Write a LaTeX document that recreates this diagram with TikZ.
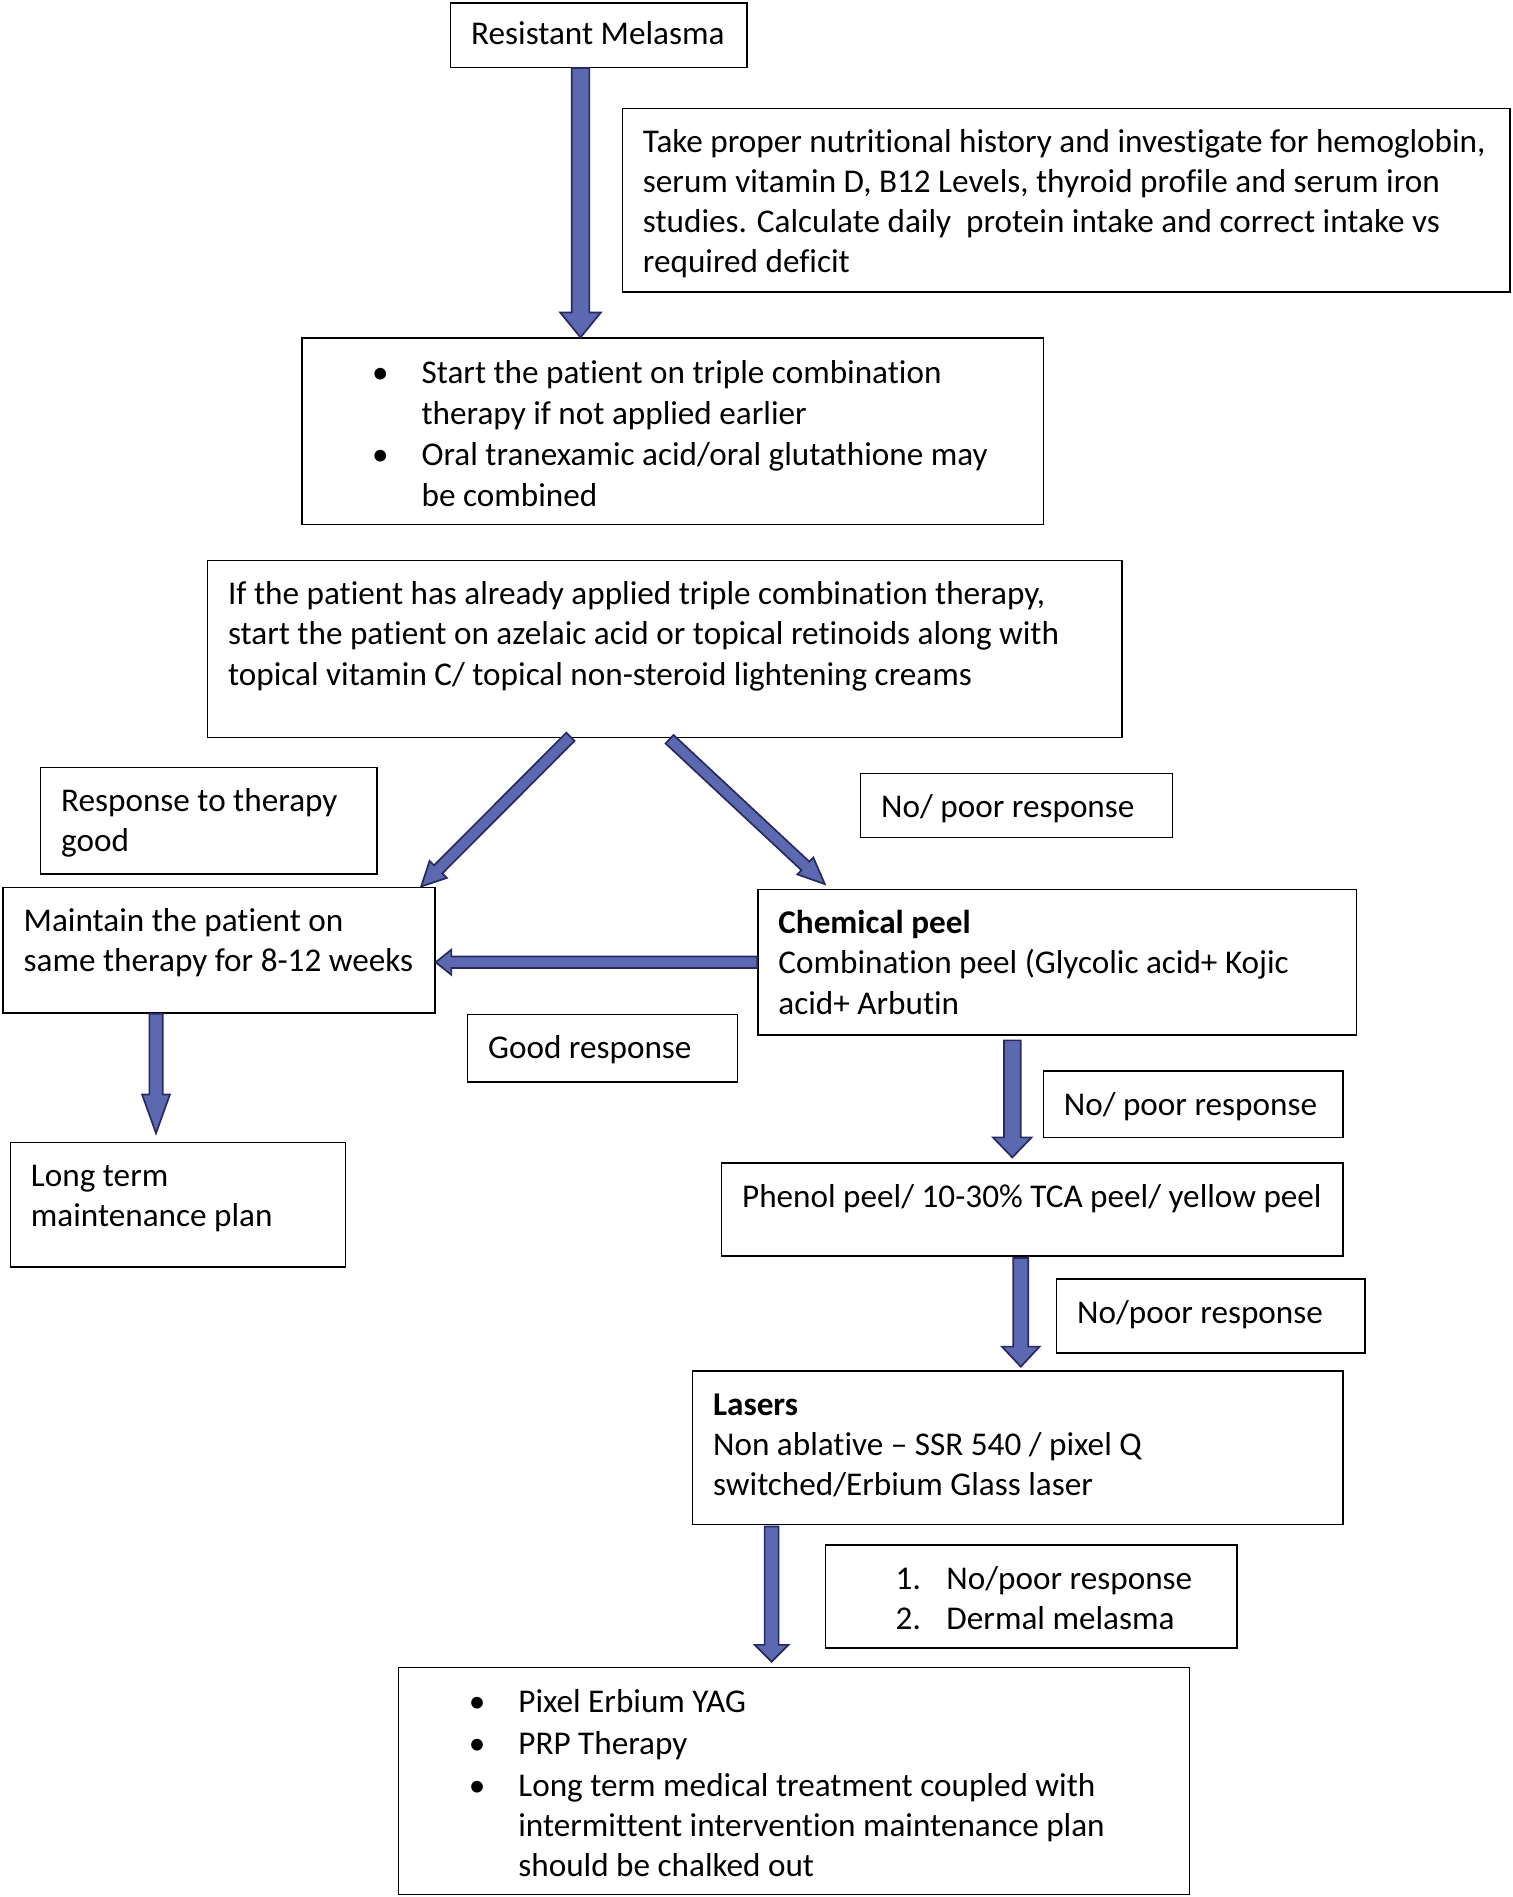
\documentclass[tikz,border=0pt]{standalone}
\usepackage{fontspec}
\setmainfont{Carlito}[Ligatures={NoCommon}]
\usetikzlibrary{calc}
\definecolor{arrfill}{RGB}{92,104,176}
\definecolor{arrline}{RGB}{40,42,95}
\newcommand\boxtext[4][6.6pt]{\parbox[t][#3][t]{#2}{\vspace*{#1}\strut#4}}
\newcommand\bulitem{\hspace*{24pt}\makebox[0pt]{\textbullet}\hspace*{17pt}}
\newcommand\bulcont{\hspace*{41pt}}
\newcommand\numitem[1]{\hspace*{20.5pt}\makebox[21pt][l]{#1}}
\newcommand\blockarrow[5]{%
  \draw[barrow] let \p1=(#1), \p2=(#2), \n1={atan2(\y2-\y1,\x2-\x1)} in
    ($(\p1)+({\n1+90}:#3)$) --
    ($(\p2)+({\n1+180}:#5)+({\n1+90}:#3)$) --
    ($(\p2)+({\n1+180}:#5)+({\n1+90}:#4)$) --
    (\p2) --
    ($(\p2)+({\n1+180}:#5)+({\n1-90}:#4)$) --
    ($(\p2)+({\n1+180}:#5)+({\n1-90}:#3)$) --
    ($(\p1)+({\n1-90}:#3)$) -- cycle;}
\tikzset{
  flowbox/.style={draw=black, line width=0.6pt, inner xsep=8.5pt, inner ysep=0pt,
    anchor=north west, font=\fontsize{13.72}{16.6}\selectfont},
  barrow/.style={fill=arrfill, draw=arrline, line width=0.7pt, line join=miter}
}
\begin{document}
\begin{tikzpicture}[x=0.5pt,y=-0.5pt]
\useasboundingbox (0,0) rectangle (1251,1568.5);

\node[flowbox] (rm) at (372,2) {\boxtext[5.6pt]{105.5pt}{26.5pt}{Resistant Melasma}};
\node[flowbox] (nut) at (514,89) {\boxtext{350pt}{76pt}{Take proper nutritional history and investigate for hemoglobin,\\
serum vitamin D, B12 Levels, thyroid profile and serum iron\\
studies. Calculate daily\ \ protein intake and correct intake vs\\
required deficit}};
\node[flowbox] (tri) at (249,279) {\boxtext[7.3pt]{289.5pt}{77pt}{\bulitem Start the patient on triple combination\\
\bulcont therapy if not applied earlier\\[0.7pt]
\bulitem Oral tranexamic acid/oral glutathione may\\
\bulcont be combined}};
\node[flowbox] (ifp) at (171,463) {\boxtext{361pt}{73pt}{If the patient has already applied triple combination therapy,\\
start the patient on azelaic acid or topical retinoids along with\\
topical vitamin C/ topical non-steroid lightening creams}};
\node[flowbox] (resp) at (33,634) {\boxtext{122pt}{44pt}{Response to therapy\\ good}};
\node[flowbox] (np1) at (711,639) {\boxtext{112pt}{26.5pt}{No/ poor response}};
\node[flowbox] (maint) at (2,733) {\boxtext{161.5pt}{52pt}{Maintain the patient on\\ same therapy for 8-12 weeks}};
\node[flowbox] (chem) at (626,735) {\boxtext{230.5pt}{60pt}{\textbf{Chemical peel}\\
Combination peel (Glycolic acid+ Kojic\\
acid+ Arbutin}};
\node[flowbox] (good) at (386,838) {\boxtext{94.5pt}{28pt}{Good response}};
\node[flowbox] (lt) at (8,944) {\boxtext{121.5pt}{51.5pt}{Long term\\ maintenance plan}};
\node[flowbox] (np2) at (862,885) {\boxtext{107pt}{27.5pt}{No/ poor response}};
\node[flowbox] (phenol) at (596,961) {\boxtext{240pt}{38.5pt}{Phenol peel/ 10-30\% TCA peel/ yellow peel}};
\node[flowbox] (np3) at (873,1057) {\boxtext{110.5pt}{30.5pt}{No/poor response}};
\node[flowbox] (lasers) at (572,1133) {\boxtext{252pt}{63.5pt}{\textbf{Lasers}\\
Non ablative – SSR 540 / pixel Q\\
switched/Erbium Glass laser}};
\node[flowbox] (num) at (682,1277) {\boxtext{153pt}{42.5pt}{\numitem{1.}No/poor response\\
\numitem{2.}Dermal melasma}};
\node[flowbox] (fin) at (329,1378) {\boxtext[7pt]{310pt}{94pt}{\bulitem Pixel Erbium YAG\\[0.7pt]
\bulitem PRP Therapy\\[0.7pt]
\bulitem Long term medical treatment coupled with\\
\bulcont intermittent intervention maintenance plan\\
\bulcont should be chalked out}};

% arrow end points
\coordinate (a1s) at ($(rm.south west)+(108,0)$);
\coordinate (a1e) at ($(tri.north west)+(231,0)$);
\coordinate (a2s) at ($(ifp.south)+(-78,-1)$);
\coordinate (a2e) at ($(maint.north east)+(-12,0)$);
\coordinate (a3s) at ($(ifp.south)+(4,1)$);
\coordinate (a3e) at ($(chem.north west)+(56,-4)$);
\coordinate (a4e) at (maint.east |- chem.west);
\coordinate (a5s) at ($(maint.south west)+(127,0)$);
\coordinate (a5e) at ($(lt.north west)+(121,-7)$);
\coordinate (a6s) at ($(chem.south west)+(211,4)$);
\coordinate (a6e) at ($(phenol.north west)+(241,-4)$);
\coordinate (a7s) at ($(phenol.south west)+(248,1)$);
\coordinate (a7e) at ($(lasers.north west)+(272,-3)$);
\coordinate (a8s) at ($(lasers.south west)+(66,1)$);
\coordinate (a8e) at ($(fin.north west)+(309,-4)$);

\blockarrow{a1s}{a1e}{3.65pt}{8.4pt}{10.3pt}
\blockarrow{a2s}{a2e}{2.4pt}{5pt}{10pt}
\blockarrow{a3s}{a3e}{2.4pt}{4.8pt}{11pt}
\blockarrow{chem.west}{a4e}{2.4pt}{5.2pt}{6.5pt}
\blockarrow{a5s}{a5e}{2.75pt}{5.75pt}{16pt}
\blockarrow{a6s}{a6e}{3.45pt}{8pt}{8.3pt}
\blockarrow{a7s}{a7e}{3.1pt}{7.8pt}{8.3pt}
\blockarrow{a8s}{a8e}{2.9pt}{7pt}{7pt}
\end{tikzpicture}
\end{document}
